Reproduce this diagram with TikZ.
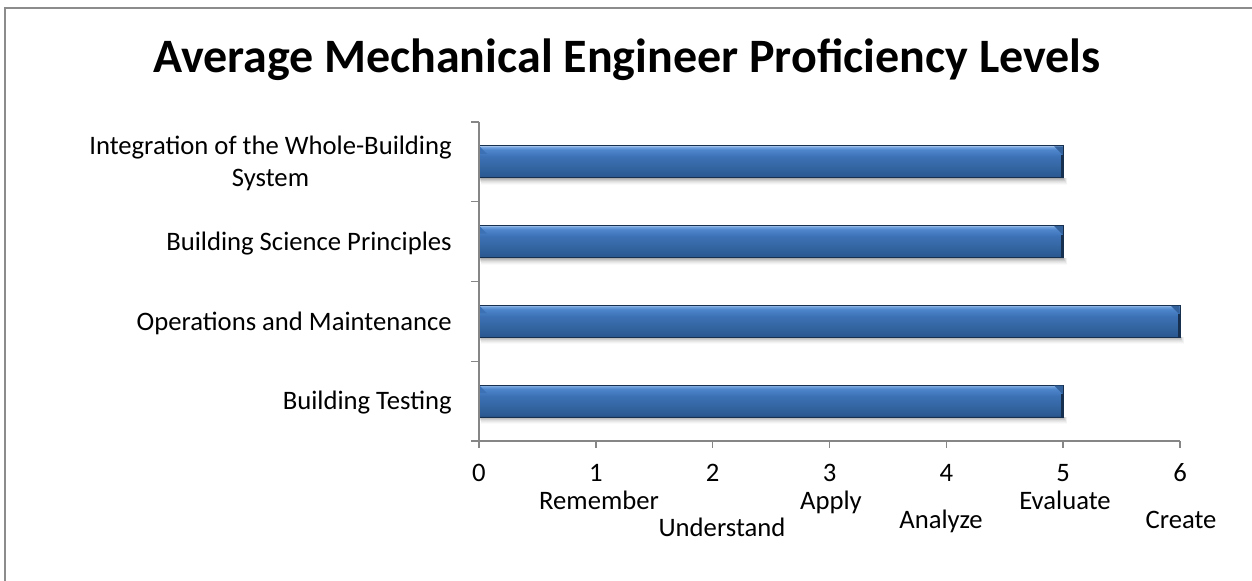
\documentclass[tikz,border=0pt]{standalone}
\usepackage{fontspec}
\setmainfont{Carlito}
\definecolor{axisgray}{HTML}{868686}
\definecolor{framegray}{HTML}{8C8C8C}
\definecolor{bartop}{HTML}{A5C4EA}
\definecolor{barhl}{HTML}{6FA0DD}
\definecolor{barhi}{HTML}{4E86CC}
\definecolor{barmid}{HTML}{3C71B5}
\definecolor{barlow}{HTML}{32649F}
\definecolor{barlower}{HTML}{2A5790}
\definecolor{barbot}{HTML}{17304F}
\definecolor{barcap}{HTML}{33619C}
\pgfdeclareverticalshading{barshade}{100bp}{color(0bp)=(barbot); color(25bp)=(barbot); color(27bp)=(barlower); color(40bp)=(barlow); color(58bp)=(barmid); color(69bp)=(barhi); color(73bp)=(barhl); color(75bp)=(bartop); color(100bp)=(bartop)}
\tikzset{
  axisline/.style={draw=axisgray, line width=1.1pt},
  catlabel/.style={font=\fontsize{20}{24}\selectfont, align=center, anchor=base east, inner sep=0pt},
  numlabel/.style={font=\fontsize{20}{24}\selectfont, anchor=base, inner sep=0pt},
  titlelabel/.style={font=\bfseries\fontsize{36}{42}\selectfont, anchor=base, inner sep=0pt},
  barbody/.style={shading=barshade, draw=barbot, line width=0.6pt},
}
\newcommand{\drawbarh}[2]{% #1 = center y, #2 = end x
  \foreach \s/\o in {1/0.10,2/0.08,3/0.07,4/0.05,5/0.04,6/0.03,7/0.02}{
    \fill[black, opacity=\o] (479+\s*0.3, #1+16) rectangle (#2+\s*0.6, #1+16+\s);
  }
  \shadedraw[barbody] (479, #1-16) rectangle (#2, #1+16);
  \fill[barmid] (479.4, #1-15.6) -- (487, #1-8) -- (479.4, #1-8) -- cycle;
  \fill[barcap] (#2-9, #1-15.6) -- (#2-0.4, #1-15.6) -- (#2-0.4, #1-7) -- cycle;
  \fill[barbot] (#2-2, #1-7) rectangle (#2, #1+16);
}
\begin{document}
\begin{tikzpicture}[x=0.75pt, y=-0.75pt]
\useasboundingbox (0,0) rectangle (1252,581);
% frame
\draw[framegray, line width=0.9pt] (5,581) -- (5,8) -- (1252,8);
% title
\node[titlelabel] (title) at (627,73) {Average Mechanical Engineer Proficiency Levels};
% bars
\drawbarh{161.9}{1063.17}
\drawbarh{241.6}{1063.17}
\drawbarh{321.4}{1180}
\drawbarh{401.1}{1063.17}
% axes
\coordinate (o) at (479,441);
\coordinate (ytop) at (479,122);
\coordinate (xend) at (1180,441);
\draw[axisline] (ytop) -- (o) -- (xend);
\foreach \yy in {122,201.75,281.5,361.25,441}{
  \draw[axisline] (471,\yy) -- (479,\yy);
}
\foreach \i/\xx in {0/479,1/595.83,2/712.67,3/829.5,4/946.33,5/1063.17,6/1180}{
  \draw[axisline] (\xx,441) -- (\xx,448);
  \node[numlabel] (num\i) at (\xx,481) {\i};
}
% category labels
\node[catlabel, anchor=east] (cat1) at (452,163) {Integration of the Whole-Building\\System};
\node[catlabel] (cat2) at (452,250) {Building Science Principles};
\node[catlabel] (cat3) at (452,330) {Operations and Maintenance};
\node[catlabel] (cat4) at (452,409) {Building Testing};
% level labels
\node[numlabel] (lvl1) at (599,509) {Remember};
\node[numlabel] (lvl2) at (722,536) {Understand};
\node[numlabel] (lvl3) at (831,509) {Apply};
\node[numlabel] (lvl4) at (941,528) {Analyze};
\node[numlabel] (lvl5) at (1065,509) {Evaluate};
\node[numlabel] (lvl6) at (1181,528) {Create};
\end{tikzpicture}
\end{document}
